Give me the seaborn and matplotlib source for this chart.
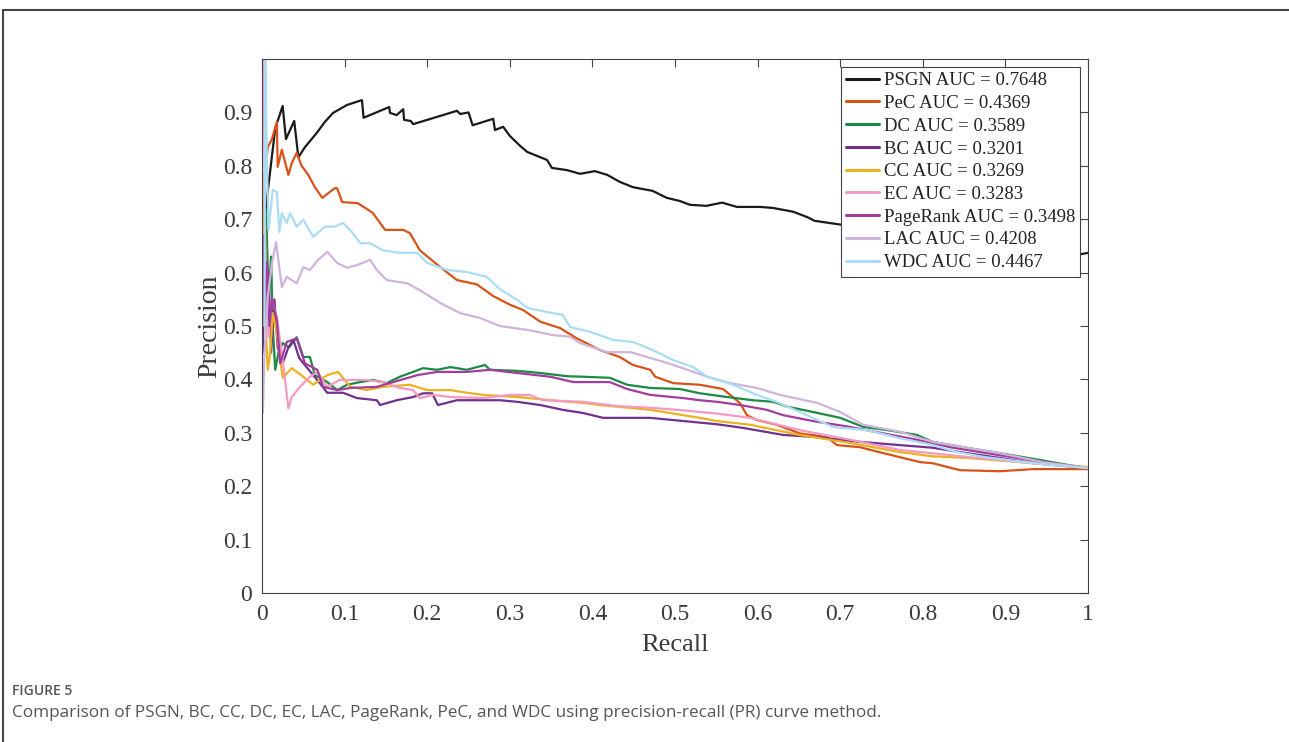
import matplotlib
matplotlib.use("Agg")
import numpy as np
import pandas as pd
import seaborn as sns
import matplotlib.pyplot as plt
from matplotlib.lines import Line2D

# ---------------- data ----------------
methods = ["PSGN", "PeC", "DC", "BC", "CC", "EC", "PageRank", "LAC", "WDC"]
auc_values = ["0.7648", "0.4369", "0.3589", "0.3201", "0.3269", "0.3283", "0.3498", "0.4208", "0.4467"]
colors = ["#1a1a1a", "#D95319", "#1B8A42", "#72308E", "#EDB120", "#F49AC2", "#A33C9F", "#CFB4DC", "#AADDF5"]

psgn_recall = [0.003, 0.016, 0.025, 0.029, 0.039, 0.044, 0.052, 0.066, 0.076, 0.086, 0.103, 0.121, 0.123, 0.154,
               0.155, 0.163, 0.171, 0.172, 0.18, 0.183, 0.236, 0.24, 0.25, 0.255, 0.28, 0.282, 0.292, 0.30, 0.312,
               0.321, 0.345, 0.351, 0.369, 0.385, 0.403, 0.418, 0.433, 0.449, 0.473, 0.49, 0.506, 0.518, 0.538,
               0.557, 0.575, 0.603, 0.619, 0.643, 0.66, 0.669, 0.70, 0.75, 0.80, 0.85, 0.90, 0.95, 0.99, 1.0]
psgn_precision = [0.70, 0.87, 0.912, 0.85, 0.884, 0.816, 0.835, 0.861, 0.882, 0.899, 0.914, 0.923, 0.89, 0.91,
                  0.899, 0.895, 0.906, 0.886, 0.884, 0.878, 0.903, 0.897, 0.90, 0.876, 0.888, 0.867, 0.873, 0.856,
                  0.838, 0.826, 0.811, 0.796, 0.792, 0.785, 0.79, 0.783, 0.77, 0.76, 0.753, 0.74, 0.734, 0.727,
                  0.725, 0.731, 0.723, 0.723, 0.721, 0.714, 0.704, 0.697, 0.69, 0.68, 0.67, 0.66, 0.65, 0.64,
                  0.634, 0.637]

pec_recall = [0.003, 0.007, 0.012, 0.018, 0.019, 0.024, 0.032, 0.036, 0.042, 0.048, 0.056, 0.064, 0.073, 0.088,
              0.091, 0.097, 0.116, 0.134, 0.149, 0.171, 0.179, 0.191, 0.216, 0.236, 0.26, 0.28, 0.30, 0.316, 0.337,
              0.361, 0.381, 0.409, 0.433, 0.449, 0.47, 0.476, 0.498, 0.53, 0.558, 0.57, 0.579, 0.587, 0.599, 0.623,
              0.651, 0.684, 0.696, 0.724, 0.752, 0.797, 0.812, 0.845, 0.893, 0.934, 1.0]
pec_precision = [0.78, 0.835, 0.85, 0.882, 0.798, 0.83, 0.783, 0.805, 0.824, 0.80, 0.783, 0.76, 0.74, 0.758,
                 0.758, 0.732, 0.73, 0.712, 0.68, 0.68, 0.674, 0.642, 0.61, 0.586, 0.578, 0.556, 0.54, 0.53, 0.508,
                 0.496, 0.477, 0.455, 0.442, 0.427, 0.418, 0.405, 0.393, 0.39, 0.382, 0.367, 0.355, 0.333, 0.324,
                 0.315, 0.299, 0.292, 0.277, 0.273, 0.262, 0.245, 0.243, 0.23, 0.228, 0.232, 0.232]

dc_recall = [0.002, 0.005, 0.008, 0.011, 0.013, 0.016, 0.02, 0.025, 0.033, 0.042, 0.05, 0.058, 0.064, 0.079,
             0.091, 0.103, 0.119, 0.134, 0.151, 0.167, 0.195, 0.212, 0.228, 0.248, 0.27, 0.276, 0.309, 0.337,
             0.369, 0.389, 0.421, 0.442, 0.47, 0.506, 0.53, 0.563, 0.594, 0.619, 0.636, 0.667, 0.70, 0.728, 0.757,
             0.793, 0.812, 0.853, 0.893, 0.942, 0.975, 1.0]
dc_precision = [0.60, 0.717, 0.55, 0.63, 0.50, 0.418, 0.45, 0.468, 0.46, 0.479, 0.442, 0.442, 0.408, 0.395,
                0.38, 0.39, 0.395, 0.399, 0.393, 0.405, 0.421, 0.418, 0.423, 0.418, 0.427, 0.418, 0.416, 0.412,
                0.406, 0.405, 0.403, 0.39, 0.384, 0.382, 0.374, 0.367, 0.361, 0.358, 0.349, 0.339, 0.328, 0.311,
                0.305, 0.296, 0.283, 0.272, 0.262, 0.249, 0.24, 0.234]

bc_recall = [0.001, 0.003, 0.005, 0.008, 0.011, 0.015, 0.019, 0.025, 0.032, 0.038, 0.045, 0.054, 0.07, 0.079,
             0.098, 0.115, 0.139, 0.143, 0.163, 0.183, 0.195, 0.206, 0.213, 0.236, 0.26, 0.288, 0.309, 0.337,
             0.364, 0.389, 0.413, 0.47, 0.51, 0.551, 0.583, 0.631, 0.672, 0.724, 0.772, 0.812, 0.853, 0.893,
             0.934, 1.0]
bc_precision = [0.45, 0.67, 0.50, 0.60, 0.45, 0.55, 0.46, 0.43, 0.46, 0.474, 0.44, 0.423, 0.393, 0.375,
                0.375, 0.365, 0.361, 0.352, 0.361, 0.367, 0.374, 0.374, 0.352, 0.361, 0.361, 0.361, 0.358, 0.352,
                0.343, 0.337, 0.328, 0.328, 0.322, 0.316, 0.309, 0.296, 0.292, 0.283, 0.277, 0.272, 0.262, 0.253,
                0.243, 0.234]

cc_recall = [0.001, 0.003, 0.005, 0.007, 0.010, 0.013, 0.018, 0.025, 0.036, 0.05, 0.062, 0.079, 0.092, 0.107,
             0.127, 0.146, 0.179, 0.2, 0.228, 0.248, 0.268, 0.309, 0.349, 0.389, 0.409, 0.43, 0.47, 0.51, 0.53,
             0.551, 0.591, 0.651, 0.712, 0.772, 0.812, 0.853, 0.934, 1.0]
cc_precision = [0.50, 0.78, 0.48, 0.418, 0.45, 0.524, 0.487, 0.403, 0.421, 0.405, 0.39, 0.408, 0.414, 0.386,
                0.38, 0.386, 0.39, 0.38, 0.38, 0.375, 0.371, 0.367, 0.361, 0.356, 0.352, 0.349, 0.343, 0.333,
                0.328, 0.322, 0.315, 0.296, 0.281, 0.264, 0.256, 0.253, 0.243, 0.236]

ec_recall = [0.0, 0.002, 0.004, 0.008, 0.012, 0.018, 0.025, 0.032, 0.036, 0.046, 0.058, 0.067, 0.079, 0.094,
             0.127, 0.146, 0.167, 0.183, 0.191, 0.207, 0.228, 0.268, 0.30, 0.324, 0.34, 0.389, 0.43, 0.47, 0.51,
             0.53, 0.551, 0.591, 0.651, 0.712, 0.772, 0.853, 0.934, 1.0]
ec_precision = [1.0, 1.0, 0.60, 0.48, 0.55, 0.517, 0.436, 0.346, 0.367, 0.386, 0.405, 0.414, 0.386, 0.399,
                0.399, 0.395, 0.384, 0.38, 0.365, 0.371, 0.367, 0.365, 0.371, 0.371, 0.361, 0.358, 0.35, 0.347,
                0.342, 0.339, 0.336, 0.328, 0.305, 0.287, 0.268, 0.255, 0.243, 0.234]

pr_recall = [0.001, 0.003, 0.006, 0.009, 0.012, 0.018, 0.022, 0.03, 0.042, 0.052, 0.067, 0.074, 0.091, 0.107,
             0.139, 0.159, 0.188, 0.212, 0.248, 0.276, 0.309, 0.349, 0.377, 0.421, 0.442, 0.47, 0.51, 0.53,
             0.551, 0.579, 0.611, 0.631, 0.667, 0.708, 0.752, 0.793, 0.833, 0.893, 0.946, 1.0]
pr_precision = [0.67, 0.50, 0.62, 0.50, 0.55, 0.511, 0.43, 0.47, 0.477, 0.43, 0.418, 0.386, 0.38, 0.384,
                0.386, 0.395, 0.408, 0.414, 0.414, 0.418, 0.412, 0.405, 0.395, 0.395, 0.382, 0.371, 0.365, 0.361,
                0.358, 0.352, 0.343, 0.333, 0.322, 0.312, 0.299, 0.287, 0.273, 0.258, 0.245, 0.234]

lac_recall = [0.001, 0.003, 0.005, 0.007, 0.012, 0.017, 0.024, 0.03, 0.042, 0.05, 0.058, 0.068, 0.079, 0.091,
              0.103, 0.115, 0.131, 0.139, 0.151, 0.176, 0.191, 0.216, 0.24, 0.264, 0.288, 0.324, 0.352, 0.373,
              0.385, 0.418, 0.446, 0.466, 0.49, 0.515, 0.539, 0.567, 0.599, 0.627, 0.672, 0.70, 0.728, 0.772,
              0.812, 0.853, 0.893, 0.946, 1.0]
lac_precision = [0.337, 0.45, 0.50, 0.554, 0.618, 0.657, 0.573, 0.592, 0.58, 0.61, 0.605, 0.624, 0.639, 0.618,
                 0.609, 0.614, 0.624, 0.605, 0.586, 0.58, 0.567, 0.543, 0.524, 0.515, 0.50, 0.492, 0.483, 0.48,
                 0.468, 0.451, 0.451, 0.442, 0.431, 0.418, 0.405, 0.393, 0.384, 0.371, 0.356, 0.339, 0.315, 0.302,
                 0.283, 0.272, 0.262, 0.245, 0.234]

wdc_recall = [0.003, 0.004, 0.006, 0.008, 0.013, 0.018, 0.021, 0.024, 0.03, 0.034, 0.042, 0.05, 0.062, 0.076,
              0.088, 0.098, 0.11, 0.119, 0.131, 0.146, 0.167, 0.188, 0.2, 0.224, 0.248, 0.272, 0.288, 0.309,
              0.321, 0.345, 0.364, 0.373, 0.397, 0.425, 0.449, 0.473, 0.498, 0.522, 0.539, 0.57, 0.599, 0.623,
              0.651, 0.691, 0.732, 0.772, 0.812, 0.841, 0.873, 0.934, 1.0]
wdc_precision = [0.50, 1.0, 0.80, 0.68, 0.755, 0.751, 0.676, 0.711, 0.693, 0.711, 0.686, 0.699, 0.667, 0.686,
                 0.686, 0.693, 0.674, 0.655, 0.655, 0.642, 0.637, 0.637, 0.618, 0.605, 0.601, 0.592, 0.569, 0.549,
                 0.534, 0.526, 0.521, 0.498, 0.489, 0.474, 0.47, 0.455, 0.436, 0.423, 0.405, 0.39, 0.371, 0.358,
                 0.339, 0.311, 0.305, 0.29, 0.277, 0.264, 0.255, 0.243, 0.234]

recalls = [psgn_recall, pec_recall, dc_recall, bc_recall, cc_recall, ec_recall, pr_recall, lac_recall, wdc_recall]
precisions = [psgn_precision, pec_precision, dc_precision, bc_precision, cc_precision, ec_precision,
              pr_precision, lac_precision, wdc_precision]

x_ticks = [0, 0.1, 0.2, 0.3, 0.4, 0.5, 0.6, 0.7, 0.8, 0.9, 1]
x_tick_labels = ["0", "0.1", "0.2", "0.3", "0.4", "0.5", "0.6", "0.7", "0.8", "0.9", "1"]
y_ticks = [0, 0.1, 0.2, 0.3, 0.4, 0.5, 0.6, 0.7, 0.8, 0.9]
y_tick_labels = ["0", "0.1", "0.2", "0.3", "0.4", "0.5", "0.6", "0.7", "0.8", "0.9"]

# ---------------- build long table ----------------
labels = [f"{m} AUC = {a}" for m, a in zip(methods, auc_values)]
frames = []
for lab, r, p in zip(labels, recalls, precisions):
    frames.append(pd.DataFrame({"Recall": r, "Precision": p, "Method": lab}))
df = pd.concat(frames, ignore_index=True)
palette = dict(zip(labels, colors))

# ---------------- figure ----------------
sns.set_theme(style="white")
plt.rcParams["font.family"] = ["Liberation Serif", "DejaVu Serif"]

W, H = 1289, 742
fig = plt.figure(figsize=(W / 100, H / 100), dpi=100)
ax = fig.add_axes([262 / W, 1 - 593 / H, 826 / W, 534 / H])

sns.lineplot(data=df, x="Recall", y="Precision", hue="Method", hue_order=labels, palette=palette,
             sort=False, estimator=None, linewidth=1.6, ax=ax, legend=False)

ax.set_xlim(0, 1)
ax.set_ylim(0, 1)
ax.set_xticks(x_ticks)
ax.set_xticklabels(x_tick_labels)
ax.set_yticks(y_ticks)
ax.set_yticklabels(y_tick_labels)

txt_col = "#3a3a3a"
ax.tick_params(axis="both", direction="in", length=6, width=0.8, top=True, right=True,
               labelsize=17, colors="#444444", labelcolor=txt_col)
ax.tick_params(axis="x", pad=8)
ax.tick_params(axis="y", pad=7)
for s in ax.spines.values():
    s.set_color("#444444")
    s.set_linewidth(0.8)

ax.set_xlabel("Recall", fontsize=19, color=txt_col, labelpad=6.5)
ax.set_ylabel("Precision", fontsize=20, color=txt_col, labelpad=0.8)

handles = [Line2D([], [], color=c, lw=2.2) for c in colors]
leg = ax.legend(handles, labels, loc="upper right", fontsize=13.5, frameon=True, fancybox=False,
                framealpha=1, edgecolor="#444444", borderaxespad=0.42, borderpad=0.28,
                handlelength=1.75, handletextpad=0.25, labelspacing=0.30)
leg.get_frame().set_linewidth(0.8)
for t in leg.get_texts():
    t.set_color("#222222")

# ---------------- page frame & caption ----------------
fig.add_artist(Line2D([3 / W, 3 / W], [0, 1 - 10 / H], transform=fig.transFigure, color="#444444", lw=1.5))
fig.add_artist(Line2D([3 / W, 1], [1 - 10 / H, 1 - 10 / H], transform=fig.transFigure, color="#444444", lw=1.5))

fig.text(12 / W, 1 - 691 / H, "FIGURE 5", family=["Open Sans", "DejaVu Sans"], fontweight="semibold",
         fontsize=10, color="#555555", va="center", ha="left")
fig.text(12 / W, 1 - 713 / H,
         "Comparison of PSGN, BC, CC, DC, EC, LAC, PageRank, PeC, and WDC using precision-recall (PR) curve method.",
         family=["Open Sans", "DejaVu Sans"], fontsize=12.3, color="#555555", va="center", ha="left")

fig.savefig("out.png", dpi=100)
